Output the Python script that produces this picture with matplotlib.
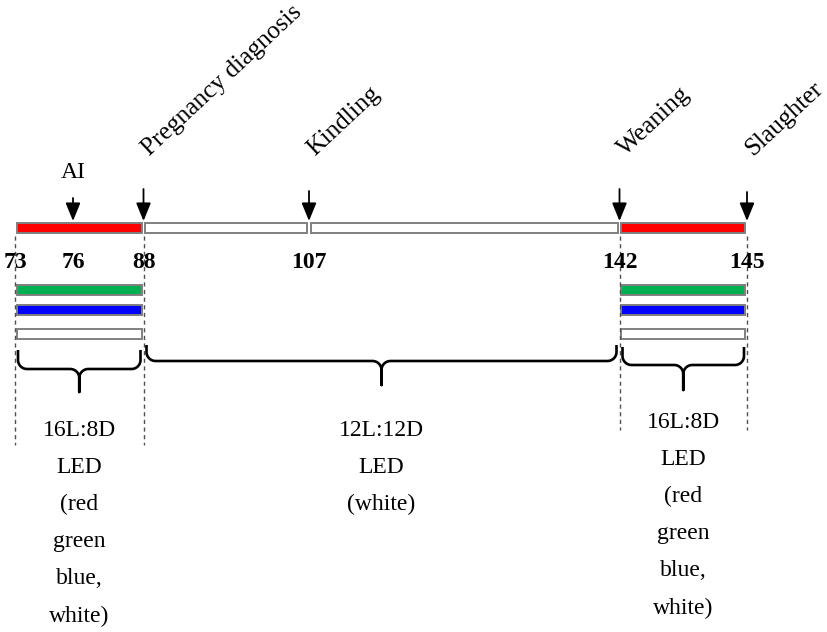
import matplotlib
matplotlib.use('Agg')
import matplotlib.pyplot as plt
import matplotlib.transforms as mtransforms
import numpy as np

plt.rcParams['font.family'] = ['Liberation Serif', 'DejaVu Serif']

# Days of the reproductive cycle shown on the timeline
tick_days = [73, 76, 88, 107, 142, 145]

# Events marked by arrows
event_names = ['AI', 'Pregnancy diagnosis', 'Kindling', 'Weaning', 'Slaughter']
event_days = [76, 88, 107, 142, 145]

# Main lighting timeline segments (start, end, colour)
main_starts = [73, 88, 107, 142]
main_ends = [88, 107, 142, 145]
main_colors = ['#ff0000', 'white', 'white', '#ff0000']

# LED colour groups during the 16L:8D periods
led_colors = ['#00b050', '#0000ff', 'white']
led_starts = [73, 142]
led_ends = [88, 145]

# Lighting programme periods (braces)
period_starts = [73, 88, 142]
period_ends = [88, 142, 145]
period_labels = ['16L:8D\nLED\n(red\ngreen\nblue,\nwhite)',
                 '12L:12D\nLED\n(white)',
                 '16L:8D\nLED\n(red\ngreen\nblue,\nwhite)']

# layout: where the key days sit across the figure (pixels), not to scale in the original
key_px = [15, 73, 143.5, 309, 619.5, 747]
W, H = 827, 632


def fwd(d):
    d = np.asarray(d, dtype=float)
    out = np.interp(d, tick_days, key_px)
    s0 = (key_px[1] - key_px[0]) / (tick_days[1] - tick_days[0])
    s1 = (key_px[-1] - key_px[-2]) / (tick_days[-1] - tick_days[-2])
    out = np.where(d < tick_days[0], key_px[0] + (d - tick_days[0]) * s0, out)
    out = np.where(d > tick_days[-1], key_px[-1] + (d - tick_days[-1]) * s1, out)
    return out


def inv(p):
    p = np.asarray(p, dtype=float)
    out = np.interp(p, key_px, tick_days)
    s0 = (key_px[1] - key_px[0]) / (tick_days[1] - tick_days[0])
    s1 = (key_px[-1] - key_px[-2]) / (tick_days[-1] - tick_days[-2])
    out = np.where(p < key_px[0], tick_days[0] + (p - key_px[0]) / s0, out)
    out = np.where(p > key_px[-1], tick_days[-1] + (p - key_px[-1]) / s1, out)
    return out


def gapped(starts, ends, gap=1.6):
    # leave a small visual gap between adjacent boxes
    l = inv(fwd(starts) + gap)
    r = inv(fwd(ends) - gap)
    return l, r - l


def brace(ax, d0, d1, ytop, yh, ytip, inset=3, r=9):
    x0 = float(fwd(d0)) + inset
    x1 = float(fwd(d1)) - inset
    xc = (x0 + x1) / 2
    t = np.linspace(0, np.pi / 2, 12)
    xs, ys = [x0], [ytop]
    xs += list(x0 + r - r * np.cos(t)); ys += list(yh - r + r * np.sin(t))
    xs += list(xc - r + r * np.sin(t)); ys += list(yh + r - r * np.cos(t))
    xs += [xc]; ys += [ytip]
    xs += [xc]; ys += [yh + r]
    xs += list(xc + r - r * np.cos(t)); ys += list(yh + r - r * np.sin(t))
    xs += list(x1 - r + r * np.sin(t)); ys += list(yh - r + r * np.cos(t))
    xs += [x1]; ys += [ytop]
    ax.plot(inv(xs), ys, color='black', lw=1.9, solid_capstyle='butt',
            solid_joinstyle='round')


fig = plt.figure(figsize=(W / 100, H / 100), dpi=100)
ax = fig.add_axes([0, 0, 1, 1])
ax.set_xscale('function', functions=(fwd, inv))
ax.set_xlim(float(inv(0)), float(inv(W)))
ax.set_ylim(H, 0)
ax.axis('off')

bar_h = 9.5
edge = '#808080'

# main timeline
left, width = gapped(main_starts, main_ends)
ax.barh([228] * len(main_starts), width, left=left,
        height=bar_h, color=main_colors, edgecolor=edge, linewidth=1.4)

# LED rows
led_y = [290, 310, 334]
for c, y in zip(led_colors, led_y):
    left, width = gapped(led_starts, led_ends)
    ax.barh([y] * len(led_starts), width, left=left,
            height=bar_h, color=c, edgecolor=edge, linewidth=1.4)

# dashed guides at period boundaries
for d, yb in zip([73, 88, 142, 145], [445, 445, 430, 430]):
    ax.plot([d, d], [236, yb], color='#505050', lw=1.0, ls=(0, (3, 2.5)))

# day numbers
for d in tick_days:
    ax.text(d, 262, str(d), ha='center', va='center', fontsize=17, fontweight='bold')

# arrows and event labels
arrow_top = [198, 189, 191, 189, 192]
shift = mtransforms.ScaledTranslation(6 / 100, 0, fig.dpi_scale_trans)
for name, d, yt in zip(event_names, event_days, arrow_top):
    ax.annotate('', xy=(d, 221), xytext=(d, yt),
                arrowprops=dict(arrowstyle='-|>,head_length=1.1,head_width=0.45',
                                color='black', lw=1.3, shrinkA=0, shrinkB=0))
    if name == 'AI':
        ax.text(d, 172, name, ha='center', va='center', fontsize=17)
    else:
        ax.text(d, 156, name, ha='left', va='baseline', rotation=43,
                rotation_mode='anchor', fontsize=18.3,
                transform=ax.transData + shift)

# braces
brace_geom = [(350, 369, 392), (345, 361, 385), (347, 365, 390)]
for d0, d1, (yt, yh, ytip) in zip(period_starts, period_ends, brace_geom):
    brace(ax, d0, d1, yt, yh, ytip)

# period descriptions
text_top = [420, 420, 412]
for d0, d1, lab, yt in zip(period_starts, period_ends, period_labels, text_top):
    xc = float(inv((fwd(d0) + fwd(d1)) / 2))
    ax.text(xc, yt, lab, ha='center', va='top', fontsize=17, linespacing=2.0)

fig.savefig('out.png', dpi=100)
